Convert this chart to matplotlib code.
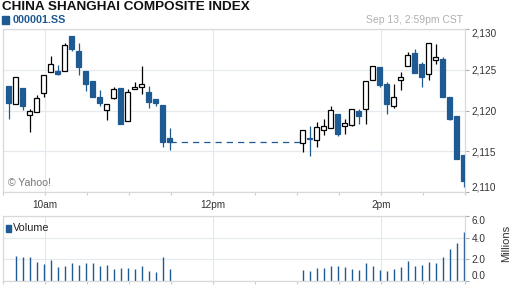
import numpy as np
import matplotlib
matplotlib.use("Agg")
import matplotlib.pyplot as plt
from matplotlib.ticker import FixedLocator, FuncFormatter

plt.rcParams['font.family'] = ['Liberation Sans', 'DejaVu Sans']

BLUE = '#1f5a93'
GRID = '#e6e9ee'
FRAME = '#d9d9d9'
TEXT = '#333333'

# 5-minute candles, labelled by end time
morning_times = ["09:35", "09:40", "09:45", "09:50", "09:55", "10:00", "10:05", "10:10",
                 "10:15", "10:20", "10:25", "10:30", "10:35", "10:40", "10:45", "10:50",
                 "10:55", "11:00", "11:05", "11:10", "11:15", "11:20", "11:25", "11:30"]
afternoon_times = ["13:05", "13:10", "13:15", "13:20", "13:25", "13:30", "13:35", "13:40",
                   "13:45", "13:50", "13:55", "14:00", "14:05", "14:10", "14:15", "14:20",
                   "14:25", "14:30", "14:35", "14:40", "14:45", "14:50", "14:55", "15:00"]

morning_open = [2123.0, 2120.8, 2122.75, 2119.4, 2119.8, 2122.1, 2124.7, 2124.8,
                2124.8, 2129.2, 2127.3, 2124.9, 2123.65, 2121.7, 2120.05, 2121.5,
                2122.8, 2118.7, 2122.6, 2122.9, 2122.3, 2121.4, 2120.7, 2116.6]
morning_high = [2123.0, 2124.1, 2122.75, 2120.2, 2121.9, 2124.4, 2126.7, 2125.6,
                2128.3, 2129.2, 2128.3, 2124.9, 2123.65, 2122.5, 2120.8, 2122.9,
                2122.8, 2122.6, 2123.5, 2125.5, 2123.0, 2121.4, 2120.7, 2117.8]
morning_low = [2118.9, 2120.8, 2120.1, 2117.4, 2119.8, 2121.6, 2124.7, 2124.3,
               2124.8, 2127.3, 2124.4, 2122.4, 2121.6, 2120.6, 2118.8, 2121.4,
               2118.3, 2118.7, 2122.6, 2122.0, 2120.3, 2120.6, 2115.5, 2115.2]
morning_close = [2120.9, 2124.1, 2120.6, 2119.9, 2121.5, 2124.4, 2125.7, 2124.5,
                 2128.0, 2127.5, 2125.3, 2123.2, 2121.6, 2120.9, 2120.8, 2122.6,
                 2118.3, 2122.3, 2122.9, 2123.2, 2121.0, 2120.9, 2116.1, 2116.1]

afternoon_open = [2116.0, 2116.65, 2116.4, 2117.6, 2117.85, 2119.55, 2118.1, 2118.2,
                  2119.95, 2120.15, 2123.75, 2125.35, 2123.3, 2120.5, 2123.75, 2125.45,
                  2127.1, 2125.7, 2124.45, 2126.15, 2126.35, 2121.65, 2119.35, 2114.55]
afternoon_high = [2117.6, 2118.1, 2118.6, 2118.9, 2120.55, 2119.55, 2118.95, 2120.15,
                  2120.2, 2123.6, 2125.45, 2125.35, 2123.55, 2123.3, 2124.75, 2127.15,
                  2127.6, 2126.0, 2128.3, 2128.2, 2126.6, 2121.7, 2119.35, 2114.55]
afternoon_low = [2114.9, 2114.4, 2115.5, 2117.05, 2117.85, 2116.85, 2117.15, 2118.1,
                 2118.35, 2118.3, 2123.75, 2122.85, 2119.55, 2120.35, 2122.5, 2125.45,
                 2124.55, 2122.85, 2123.75, 2125.75, 2121.6, 2118.85, 2114.1, 2110.65]
afternoon_close = [2117.6, 2116.5, 2118.0, 2118.1, 2120.0, 2117.1, 2118.45, 2120.15,
                   2119.3, 2123.6, 2125.45, 2123.1, 2120.85, 2121.65, 2124.1, 2126.8,
                   2124.55, 2124.05, 2128.3, 2126.55, 2121.6, 2119.0, 2114.1, 2111.4]

# volume in millions (first candle of the day has no bar)
morning_volume = [np.nan, 2.34, 2.25, 2.25, 1.76, 1.57, 1.97, 1.30, 1.42, 1.67, 1.51, 1.67,
                  1.67, 1.42, 1.51, 1.11, 1.20, 1.20, 1.11, 1.39, 0.93, 0.83, 2.25, 1.11]
afternoon_volume = [1.02, 0.93, 1.23, 1.23, 1.39, 1.39, 1.30, 1.11, 1.02, 1.67, 1.39, 1.02,
                    0.93, 1.11, 1.30, 1.85, 1.39, 1.48, 1.76, 1.67, 2.22, 2.96, 3.52, 4.54]

price_ticks = [2110, 2115, 2120, 2125, 2130]
volume_ticks = [0.0, 2.0, 4.0, 6.0]
hour_labels = {"10:00": "10am", "12:00": "12pm", "14:00": "2pm"}


def to_minutes(hhmm):
    # minutes after the 9:30 open
    h, m = hhmm.split(":")
    return int(h) * 60 + int(m) - 570


times = np.array([to_minutes(t) - 1 for t in morning_times + afternoon_times], dtype=float)
opens = np.array(morning_open + afternoon_open)
highs = np.array(morning_high + afternoon_high)
lows = np.array(morning_low + afternoon_low)
closes = np.array(morning_close + afternoon_close)
volume = np.array(morning_volume + afternoon_volume)

fig = plt.figure(figsize=(5.12, 2.88), dpi=100)
W, H = 512.0, 288.0
ax = fig.add_axes([3 / W, 1 - 192 / H, 462 / W, 163 / H])
axv = fig.add_axes([3 / W, 1 - 281 / H, 462 / W, 65 / H])

for a in (ax, axv):
    a.set_xlim(0, 330)
    for s in a.spines.values():
        s.set_color(FRAME)
        s.set_linewidth(0.9)
    a.xaxis.set_major_locator(FixedLocator([to_minutes(k) for k in hour_labels]))
    a.xaxis.set_minor_locator(FixedLocator(list(range(0, 331, 30))))
    a.grid(which='major', color=GRID, linewidth=0.9)
    a.set_axisbelow(True)
    a.yaxis.tick_right()
    a.tick_params(axis='x', which='both', length=2.5, color='#cccccc', width=0.8)
    a.tick_params(axis='y', length=3, color='#aaaaaa', width=0.8, labelsize=7.2,
                  labelcolor=TEXT, pad=1.5)

ax.set_xticklabels(list(hour_labels.values()))
ax.tick_params(axis='x', labelsize=7.2, labelcolor=TEXT, pad=3.5)
axv.set_xticklabels([])

# price panel
ax.set_ylim(price_ticks[0], price_ticks[-1])
ax.set_yticks(price_ticks)
ax.yaxis.set_major_formatter(FuncFormatter(lambda v, p: f"{v:,.0f}"))

up = closes >= opens
body_w = 3.5
ax.vlines(times[up], lows[up], highs[up], color='black', linewidth=0.9, zorder=2)
ax.vlines(times[~up], lows[~up], highs[~up], color=BLUE, linewidth=0.9, zorder=2)
body_low = np.minimum(opens, closes)
body_h = np.maximum(np.abs(closes - opens), 0.06)
ax.bar(times[up], body_h[up], bottom=body_low[up], width=body_w, facecolor='white',
       edgecolor='black', linewidth=0.9, zorder=3)
ax.bar(times[~up], body_h[~up], bottom=body_low[~up], width=body_w, facecolor=BLUE,
       edgecolor=BLUE, linewidth=0.9, zorder=3)

# lunch break: hold the last morning close
n_m = len(morning_times)
ax.plot([times[n_m - 1], times[n_m]], [closes[n_m - 1]] * 2, color=BLUE,
        linewidth=0.9, dashes=(5, 4), zorder=1)

ax.text(5 / 462, 9 / 163, "\u00a9 Yahoo!", transform=ax.transAxes, fontsize=7.6,
        color='#777777', va='center', ha='left')

# volume panel
axv.set_ylim(volume_ticks[0], volume_ticks[-1])
axv.set_yticks(volume_ticks)
axv.yaxis.set_major_formatter(FuncFormatter(lambda v, p: f"{v:.1f}"))
axv.vlines(times, 0, volume, color=BLUE, linewidth=1.0, zorder=2)

for a in (ax, axv):
    labels = a.get_yticklabels()
    labels[0].set_verticalalignment('bottom')
    labels[-1].set_verticalalignment('top')

fig.text(506 / W, 1 - 243 / H, "Millions", rotation=90, fontsize=8, color=TEXT,
         ha='center', va='center')
fig.patches.append(plt.Rectangle((6 / W, 1 - 231.5 / H), 5 / W, 7 / H, color=BLUE,
                                 transform=fig.transFigure, figure=fig))
fig.text(13 / W, 1 - 228 / H, "Volume", fontsize=7.8, color='#222222', va='center')

# header
fig.text(2 / W, 1 - 7 / H, "CHINA SHANGHAI COMPOSITE INDEX", fontsize=9.7,
         fontweight='bold', color='#111111', va='center')
fig.patches.append(plt.Rectangle((2 / W, 1 - 23.5 / H), 7 / W, 7 / H, color=BLUE,
                                 transform=fig.transFigure, figure=fig))
fig.text(13 / W, 1 - 20 / H, "000001.SS", fontsize=7.8, fontweight='bold', color=BLUE,
         va='center')
fig.text(463 / W, 1 - 20 / H, "Sep 13, 2:59pm CST", fontsize=7.5, color='#b0b0b0',
         va='center', ha='right')

fig.savefig("out.png", dpi=100)
